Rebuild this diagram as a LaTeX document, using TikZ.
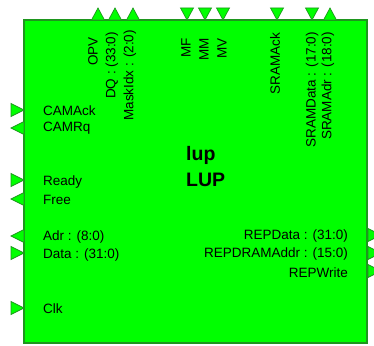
\documentclass[tikz,border=0pt]{standalone}
\usepackage{fontspec}
\setmainfont{Liberation Sans}
\definecolor{boxfill}{RGB}{0,255,0}
\definecolor{boxline}{RGB}{30,150,30}
\tikzset{
  x=1pt, y=-1pt,
  blockbox/.style={fill=boxfill, draw=boxline, line width=2pt},
  pinshape/.style={fill=boxfill, draw=boxline, line width=0.7pt, line join=miter},
  lbl/.style={inner sep=0pt, font=\fontsize{13.5}{14}\selectfont, text=black},
  vlbl/.style={lbl, rotate=90, anchor=east},
  title/.style={inner sep=0pt, font=\fontsize{19.5}{22}\selectfont\bfseries, text=black, anchor=west}
}
\begin{document}
\begin{tikzpicture}
\useasboundingbox (0,0) rectangle (374,345);
\clip (0,0) rectangle (374,345);
\draw[blockbox] (24,20) rectangle (367,343);
\node[inner sep=0pt] (box) at (195.5,181.5) {};
% top pins: up (outputs)
\foreach \px in {98,115,133,330} {
  \draw[pinshape] (\px-6.5,20) -- (\px+6.5,20) -- (\px,8) -- cycle;
}
% top pins: down (inputs)
\foreach \px in {187,205,223,277,312} {
  \draw[pinshape] (\px-6.5,8) -- (\px+6.5,8) -- (\px,20) -- cycle;
}
% left pins: inputs (pointing right)
\foreach \py in {110,180,253,308} {
  \draw[pinshape] (11,\py-6.5) -- (11,\py+6.5) -- (24,\py) -- cycle;
}
% left pins: outputs (pointing left)
\foreach \py in {128,199,236} {
  \draw[pinshape] (24,\py-6.5) -- (24,\py+6.5) -- (11,\py) -- cycle;
}
% right pins: outputs (pointing right)
\foreach \py in {235,253,271} {
  \draw[pinshape] (368,\py-6.5) -- (368,\py+6.5) -- (381,\py) -- cycle;
}
% top labels
\node[vlbl] (opv) at (93,37) {OPV};
\node[vlbl] (dq) at (112,32) {DQ : (33:0)};
\node[vlbl] (maskidx) at (130,30) {MaskIdx : (2:0)};
\node[vlbl] (mf) at (186,38) {MF};
\node[vlbl] (mm) at (204,38) {MM};
\node[vlbl] (mv) at (222,38) {MV};
\node[vlbl] (sramack) at (275,33) {SRAMAck};
\node[vlbl] (sramdata) at (312,32) {SRAMData : (17:0)};
\node[vlbl] (sramadr) at (328,32) {SRAMAdr : (18:0)};
% left labels
\node[lbl, anchor=west] (camack) at (43,111) {CAMAck};
\node[lbl, anchor=west] (camrq) at (43,128) {CAMRq};
\node[lbl, anchor=west] (ready) at (43,182) {Ready};
\node[lbl, anchor=west] (free) at (43,200) {Free};
\node[lbl, anchor=west] (adr) at (43,237) {Adr : (8:0)};
\node[lbl, anchor=west] (data) at (43,255) {Data : (31:0)};
\node[lbl, anchor=west] (clk) at (43,309) {Clk};
% right labels
\node[lbl, anchor=east] (repdata) at (348,236) {REPData : (31:0)};
\node[lbl, anchor=east] (repdramaddr) at (348,254) {REPDRAMAddr : (15:0)};
\node[lbl, anchor=east] (repwrite) at (348,273) {REPWrite};
% title
\node[title] (inst) at (186,155) {lup};
\node[title] (cell) at (186,180) {LUP};
\end{tikzpicture}
\end{document}
